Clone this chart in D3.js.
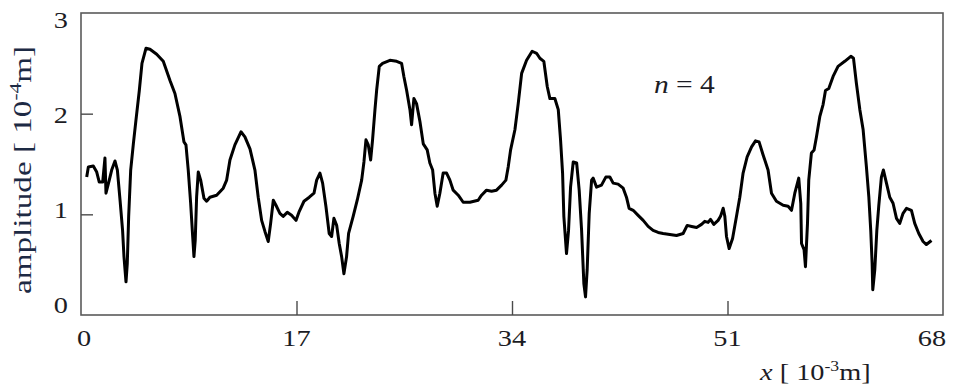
<!DOCTYPE html>
<html>
<head>
<meta charset="utf-8">
<script src="https://cdn.jsdelivr.net/npm/d3@7"></script>
<style>
  body { margin: 0; background: #fff; }
  text { font-family: "Liberation Serif", "Times New Roman", serif; fill: #1c1c24; }
</style>
</head>
<body>
<div id="chart"></div>
<script>
// position along the sample, 10^-3 m
var posX = [0.45, 0.58, 0.97, 1.24, 1.44, 1.71, 1.89, 1.97, 2.23, 2.42, 2.68, 2.87, 3.08, 3.28, 3.39, 3.55, 3.65, 3.76, 3.92,
  4.13, 4.34, 4.60, 4.81, 5.13, 5.44, 5.97, 6.49, 7.02, 7.41, 7.81, 8.12, 8.28, 8.46, 8.65, 8.81, 8.91, 9.01, 9.12, 9.25,
  9.44, 9.70, 9.91, 10.17, 10.70, 11.22, 11.49, 11.75, 12.14, 12.62, 12.93, 13.33, 13.72, 13.98, 14.25, 14.51, 14.77, 14.96,
  15.17, 15.38, 15.69, 15.95, 16.27, 16.61, 16.96, 17.22, 17.59, 18.01, 18.38, 18.59, 18.85, 19.06, 19.32, 19.58, 19.77,
  19.95, 20.17, 20.37, 20.56, 20.74, 20.95, 21.11, 21.47, 21.79, 22.14, 22.32, 22.48, 22.66, 22.85, 23.00, 23.19, 23.32,
  23.53, 23.79, 24.37, 24.90, 25.29, 25.47, 25.69, 25.95, 26.08, 26.26, 26.47, 26.74, 27.00, 27.31, 27.52, 27.74, 27.92,
  28.10, 28.31, 28.57, 28.84, 29.10, 29.36, 29.76, 30.15, 30.68, 31.33, 31.60, 31.99, 32.39, 32.78, 33.18, 33.52, 33.70,
  33.89, 34.23, 34.49, 34.76, 35.15, 35.59, 35.94, 36.20, 36.51, 36.78, 36.99, 37.38, 37.65, 37.83, 37.99, 38.09, 38.30,
  38.46, 38.62, 38.83, 39.10, 39.30, 39.49, 39.67, 39.80, 39.93, 40.09, 40.28, 40.40, 40.67, 41.06, 41.40, 41.72, 41.98,
  42.37, 42.77, 43.03, 43.24, 43.56, 43.95, 44.35, 44.74, 45.13, 45.53, 45.92, 46.45, 46.98, 47.50, 47.82, 48.17, 48.56,
  48.95, 49.21, 49.47, 49.66, 49.92, 50.26, 50.45, 50.66, 50.79, 50.92, 51.13, 51.40, 51.71, 51.97, 52.23, 52.55, 52.90,
  53.21, 53.49, 53.81, 54.20, 54.47, 54.86, 55.39, 55.78, 56.05, 56.31, 56.62, 56.78, 56.84, 57.04, 57.15, 57.31, 57.41,
  57.62, 57.83, 58.02, 58.28, 58.54, 58.73, 58.99, 59.33, 59.72, 60.25, 60.73, 60.94, 61.17, 61.44, 61.70, 61.96, 62.15,
  62.30, 62.41, 62.46, 62.62, 62.78, 62.93, 63.14, 63.30, 63.54, 63.80, 64.06, 64.33, 64.59, 64.85, 65.12, 65.51, 65.77,
  66.09, 66.43, 66.69, 67.09];

// amplitude, 10^-4 m
var amp = [1.37, 1.47, 1.48, 1.42, 1.32, 1.32, 1.56, 1.21, 1.34, 1.44, 1.53, 1.44, 1.14, 0.84, 0.58, 0.33, 0.51, 0.98, 1.44,
  1.70, 1.94, 2.23, 2.50, 2.65, 2.64, 2.59, 2.52, 2.33, 2.20, 1.97, 1.72, 1.69, 1.44, 1.11, 0.78, 0.58, 0.74, 1.17, 1.42,
  1.34, 1.16, 1.13, 1.17, 1.19, 1.26, 1.34, 1.54, 1.69, 1.82, 1.77, 1.65, 1.44, 1.17, 0.94, 0.83, 0.73, 0.91,
  1.14, 1.09, 1.01, 0.98, 1.02, 0.99, 0.94, 1.03, 1.13, 1.17, 1.21, 1.34, 1.41, 1.31, 1.08, 0.81, 0.78,
  0.96, 0.89, 0.71, 0.58, 0.41, 0.58, 0.81, 0.98, 1.14, 1.34, 1.52, 1.74, 1.69, 1.54, 1.74, 2.04, 2.23,
  2.47, 2.50, 2.53, 2.52, 2.50, 2.37, 2.23, 2.04, 1.89, 2.15, 2.10, 1.92, 1.70, 1.64, 1.51, 1.44, 1.21,
  1.08, 1.21, 1.41, 1.41, 1.34, 1.24, 1.19, 1.12, 1.12, 1.14, 1.19, 1.24, 1.23, 1.24, 1.29, 1.34, 1.47,
  1.64, 1.84, 2.10, 2.40, 2.53, 2.62, 2.60, 2.55, 2.52, 2.27, 2.15, 2.15, 2.04, 1.74, 1.41, 0.98, 0.61,
  0.84, 1.27, 1.52, 1.51, 1.24, 0.84, 0.31, 0.18, 0.45, 1.01, 1.34, 1.36, 1.27, 1.29, 1.37, 1.37, 1.31,
  1.30, 1.26, 1.17, 1.06, 1.04, 0.99, 0.94, 0.88, 0.84, 0.82, 0.81, 0.80, 0.79, 0.81, 0.89, 0.88, 0.87,
  0.90, 0.93, 0.92, 0.95, 0.90, 0.94, 0.98, 1.06, 0.98, 0.78, 0.66, 0.76, 0.98, 1.17, 1.41, 1.57, 1.67,
  1.73, 1.72, 1.59, 1.44, 1.21, 1.13, 1.09, 1.08, 1.04, 1.21, 1.36, 1.11, 0.71, 0.65, 0.48, 0.91, 1.34,
  1.61, 1.64, 1.77, 1.97, 2.09, 2.23, 2.25, 2.37, 2.47, 2.52, 2.57, 2.55, 2.30, 2.04, 1.84, 1.47, 1.17,
  0.84, 0.51, 0.25, 0.45, 0.84, 1.08, 1.37, 1.44, 1.31, 1.17, 1.11, 0.96, 0.91, 1.01, 1.06, 1.04, 0.91,
  0.81, 0.73, 0.70, 0.74];

var xTicks = [0, 17, 34, 51, 68];
var yTicks = [0, 1, 2, 3];

var width = 955, height = 387;
var margin = { top: 13, right: 12, bottom: 72, left: 81 };
var stretch = 1.18; // the original figure is a bit wider than tall

var svg = d3.select("#chart").append("svg")
  .attr("width", width)
  .attr("height", height);

var x = d3.scaleLinear()
  .domain([0, 68])
  .range([margin.left, width - margin.right]);

var y = d3.scaleLinear()
  .domain([0, 3])
  .range([height - margin.bottom, margin.top]);

// frame
svg.append("rect")
  .attr("x", x(0))
  .attr("y", y(3))
  .attr("width", x(68) - x(0))
  .attr("height", y(0) - y(3))
  .attr("fill", "none")
  .attr("stroke", "#5a5a5a")
  .attr("stroke-width", 1.6);

// inner ticks
svg.append("g")
  .attr("transform", "translate(0," + y(0) + ")")
  .call(d3.axisTop(x).tickValues(xTicks.slice(1, -1)).tickSize(14).tickFormat(""))
  .call(g => g.select(".domain").remove())
  .selectAll("line").attr("stroke", "#4a4a4a").attr("stroke-width", 1.4);

svg.append("g")
  .attr("transform", "translate(" + x(0) + ",0)")
  .call(d3.axisRight(y).tickValues(yTicks.slice(1, -1)).tickSize(12).tickFormat(""))
  .call(g => g.select(".domain").remove())
  .selectAll("line").attr("stroke", "#4a4a4a").attr("stroke-width", 1.4);

function place(px, py) {
  return "translate(" + px + "," + py + ") scale(" + stretch + ",1)";
}

// tick labels
svg.append("g").selectAll("text")
  .data(xTicks)
  .enter().append("text")
  .attr("transform", d => place(Math.min(Math.max(x(d), 84), 932), y(0) + 31))
  .attr("text-anchor", "middle")
  .attr("font-size", 24)
  .text(d => d);

var yLab = d3.scaleLinear().domain([0, 3]).range([y(0) - 2, y(3) + 15]);
svg.append("g").selectAll("text")
  .data(yTicks)
  .enter().append("text")
  .attr("transform", d => place(x(0) - 13, yLab(d)))
  .attr("text-anchor", "end")
  .attr("font-size", 24)
  .text(d => d);

// curve
var line = d3.line()
  .x((d, i) => x(posX[i]))
  .y(d => y(d))
  .curve(d3.curveLinear);

svg.append("path")
  .datum(amp)
  .attr("d", line)
  .attr("fill", "none")
  .attr("stroke", "#000")
  .attr("stroke-width", 3)
  .attr("stroke-linejoin", "round");

// annotation
var note = svg.append("text")
  .attr("transform", place(654, 93))
  .attr("font-size", 25);
note.append("tspan").attr("font-style", "italic").text("n");
note.append("tspan").text(" = 4");

// axis titles
var xt = svg.append("text")
  .attr("transform", place(760, 380))
  .attr("font-size", 24);
xt.append("tspan").attr("font-style", "italic").text("x");
xt.append("tspan").text(" [ 10");
xt.append("tspan").attr("font-size", 15).attr("dy", -9).text("-3");
xt.append("tspan").attr("dy", 9).text("m]");

var yt = svg.append("text")
  .attr("transform", "translate(31,170) rotate(-90)")
  .attr("text-anchor", "middle")
  .attr("font-size", 25)
  .attr("textLength", 248)
  .attr("lengthAdjust", "spacingAndGlyphs")
  .style("fill", "#1d2a44");
yt.append("tspan").text("amplitude [ 10");
yt.append("tspan").attr("font-size", 16).attr("dy", -10).text("-4");
yt.append("tspan").attr("dy", 10).text("m]");
</script>
</body>
</html>
